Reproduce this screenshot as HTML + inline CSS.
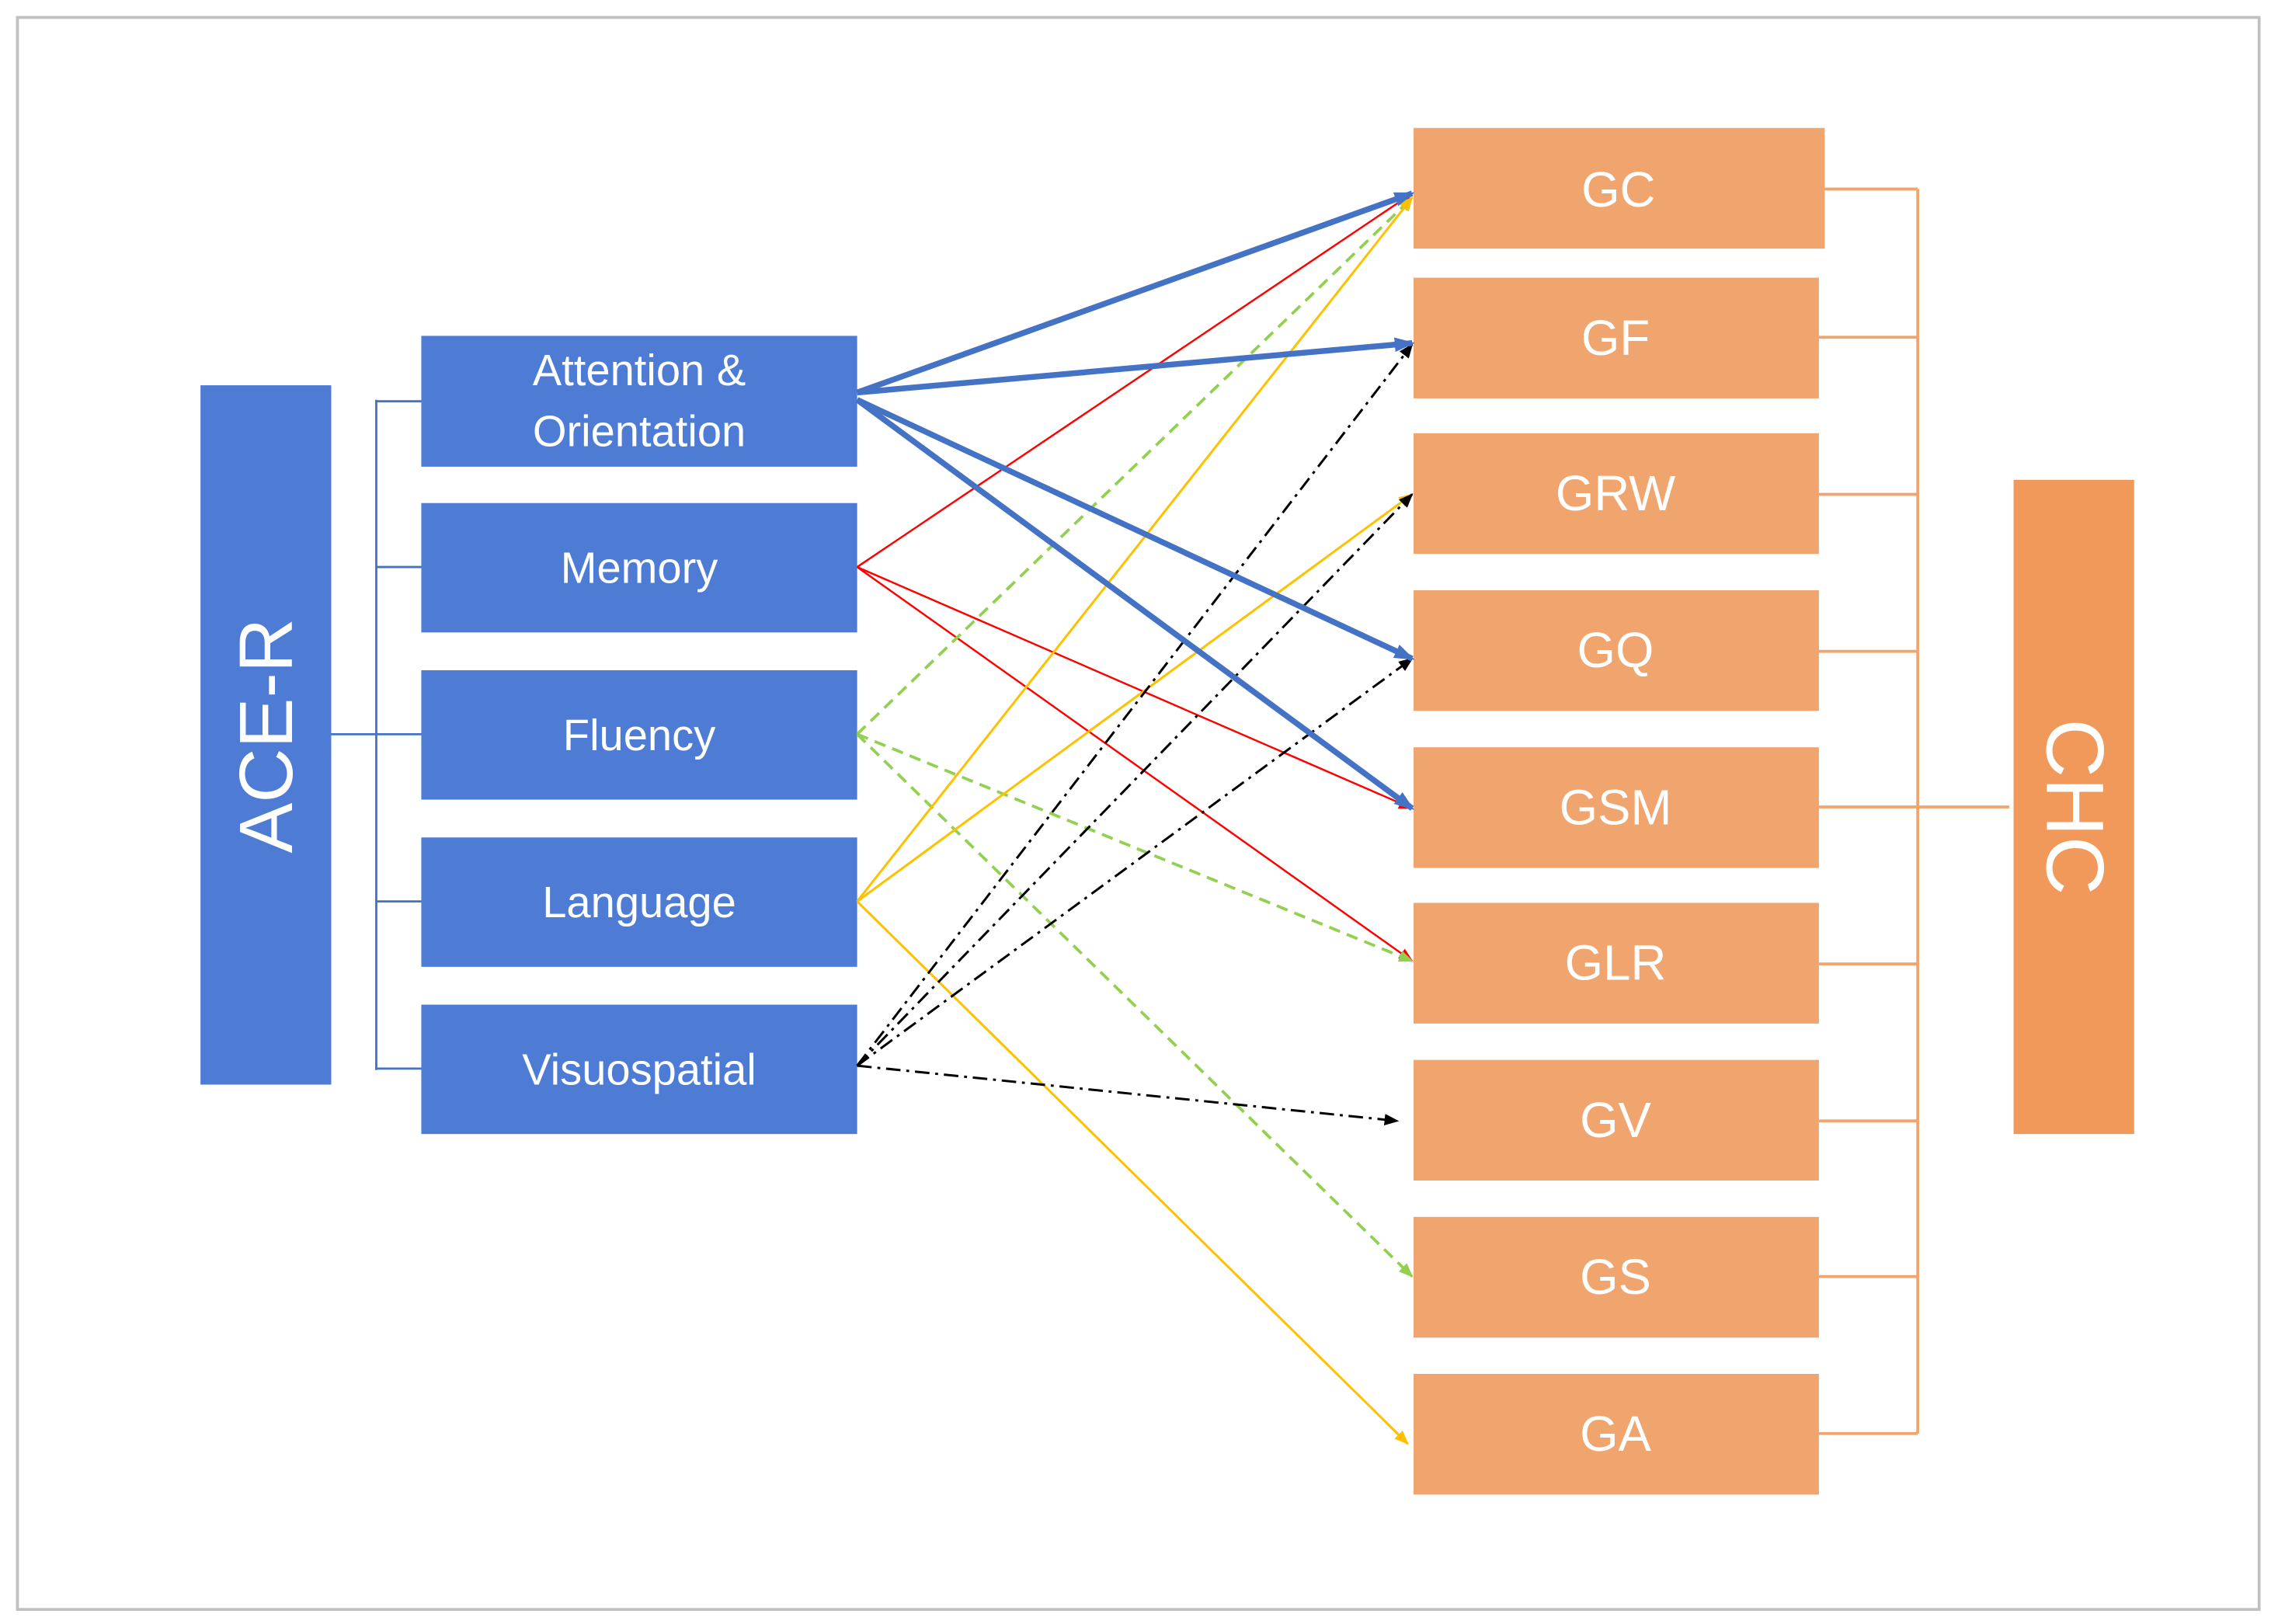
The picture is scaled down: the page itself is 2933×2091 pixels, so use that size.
<!DOCTYPE html>
<html><head><meta charset="utf-8"><style>
html,body{margin:0;padding:0;background:#fff;}
svg{display:block;}
text{font-family:"Liberation Sans","DejaVu Sans",sans-serif;fill:#fff;}
</style></head><body>
<svg width="2933" height="2091" viewBox="0 0 1568 1117" preserveAspectRatio="none" xmlns="http://www.w3.org/2000/svg">
<defs>
<marker id="mb" markerWidth="14" markerHeight="10" refX="12" refY="5" orient="auto" markerUnits="userSpaceOnUse"><path d="M0,0 L14,5 L0,10 z" fill="#4472C4"/></marker>
<marker id="mr" markerWidth="10" markerHeight="8" refX="9" refY="4" orient="auto" markerUnits="userSpaceOnUse"><path d="M0,0 L10,4 L0,8 z" fill="#FF0000"/></marker>
<marker id="mg" markerWidth="10" markerHeight="8" refX="9" refY="4" orient="auto" markerUnits="userSpaceOnUse"><path d="M0,0 L10,4 L0,8 z" fill="#92D050"/></marker>
<marker id="my" markerWidth="10" markerHeight="8" refX="9" refY="4" orient="auto" markerUnits="userSpaceOnUse"><path d="M0,0 L10,4 L0,8 z" fill="#FFC000"/></marker>
<marker id="mk" markerWidth="10" markerHeight="8" refX="9" refY="4" orient="auto" markerUnits="userSpaceOnUse"><path d="M0,0 L10,4 L0,8 z" fill="#000"/></marker>
</defs>
<rect x="0" y="0" width="1568" height="1117" fill="#fff"/>
<rect x="12" y="12" width="1543" height="1095" fill="none" stroke="#bfbfbf" stroke-width="2"/>

<rect x="138" y="265" width="90" height="481" fill="#4E7BD4"/>
<text x="183" y="506" font-size="52" text-anchor="middle" dominant-baseline="central" transform="rotate(-90 183 506)">ACE-R</text>
<g stroke="#4472C4" stroke-width="1.5" fill="none">
<path d="M228 505 H259 M259 275 V736 M259 276 H290 M259 390 H290 M259 505 H290 M259 620 H290 M259 735 H290"/>
</g>
<g fill="#4E7BD4">
<rect x="290" y="231" width="300" height="90"/>
<rect x="290" y="346" width="300" height="89"/>
<rect x="290" y="461" width="300" height="89"/>
<rect x="290" y="576" width="300" height="89"/>
<rect x="290" y="691" width="300" height="89"/>
</g>
<g font-size="30" text-anchor="middle">
<text x="440" y="265">Attention &amp;</text>
<text x="440" y="307">Orientation</text>
<text x="440" y="401">Memory</text>
<text x="440" y="516">Fluency</text>
<text x="440" y="631">Language</text>
<text x="440" y="746">Visuospatial</text>
</g>

<g stroke="#F0A46E" stroke-width="2" fill="none">
<path d="M1256 130 H1320 M1252 232 H1320 M1252 340 H1320 M1252 448 H1320 M1252 555 H1383 M1252 663 H1320 M1252 771 H1320 M1252 878 H1320 M1252 986 H1320 M1320 130 V986"/>
</g>
<rect x="1386" y="330" width="83" height="450" fill="#F0995A"/>
<text x="1428" y="555" font-size="56" text-anchor="middle" dominant-baseline="central" transform="rotate(90 1428 555)">CHC</text>
<g fill="#F0A46E">
<rect x="973" y="88" width="283" height="83"/>
<rect x="973" y="191" width="279" height="83"/>
<rect x="973" y="298" width="279" height="83"/>
<rect x="973" y="406" width="279" height="83"/>
<rect x="973" y="514" width="279" height="83"/>
<rect x="973" y="621" width="279" height="83"/>
<rect x="973" y="729" width="279" height="83"/>
<rect x="973" y="837" width="279" height="83"/>
<rect x="973" y="945" width="279" height="83"/>
</g>
<g font-size="34" text-anchor="middle">
<text x="1114" y="142">GC</text>
<text x="1112" y="244">GF</text>
<text x="1112" y="351">GRW</text>
<text x="1112" y="459">GQ</text>
<text x="1112" y="567">GSM</text>
<text x="1112" y="674">GLR</text>
<text x="1112" y="782">GV</text>
<text x="1112" y="890">GS</text>
<text x="1112" y="998">GA</text>
</g>

<g fill="none" stroke="#FF0000" stroke-width="1.3">
<line x1="590" y1="390" x2="972" y2="133" marker-end="url(#mr)"/>
<line x1="590" y1="390" x2="972" y2="556" marker-end="url(#mr)"/>
<line x1="590" y1="390" x2="972" y2="661" marker-end="url(#mr)"/>
</g>
<g fill="none" stroke="#92D050" stroke-width="2" stroke-dasharray="8,5">
<line x1="590" y1="505" x2="972" y2="136" marker-end="url(#mg)"/>
<line x1="590" y1="505" x2="972" y2="661" marker-end="url(#mg)"/>
<line x1="590" y1="505" x2="972" y2="878" marker-end="url(#mg)"/>
</g>
<g fill="none" stroke="#FFC000" stroke-width="1.6">
<line x1="590" y1="620" x2="972" y2="136" marker-end="url(#my)"/>
<line x1="590" y1="620" x2="972" y2="340" marker-end="url(#my)"/>
<line x1="590" y1="620" x2="969" y2="993" marker-end="url(#my)"/>
</g>
<g fill="none" stroke="#000" stroke-width="1.6" stroke-dasharray="10,4,2,4">
<line x1="590" y1="733" x2="972" y2="237" marker-end="url(#mk)"/>
<line x1="590" y1="733" x2="972" y2="340" marker-end="url(#mk)"/>
<line x1="590" y1="733" x2="972" y2="453" marker-end="url(#mk)"/>
<line x1="590" y1="733" x2="962" y2="771" marker-end="url(#mk)"/>
</g>
<g fill="none" stroke="#4472C4" stroke-width="4">
<line x1="590" y1="270" x2="972" y2="133" marker-end="url(#mb)"/>
<line x1="590" y1="270" x2="972" y2="236" marker-end="url(#mb)"/>
<line x1="590" y1="275" x2="972" y2="453" marker-end="url(#mb)"/>
<line x1="590" y1="275" x2="972" y2="556" marker-end="url(#mb)"/>
</g>
</svg>
</body></html>
